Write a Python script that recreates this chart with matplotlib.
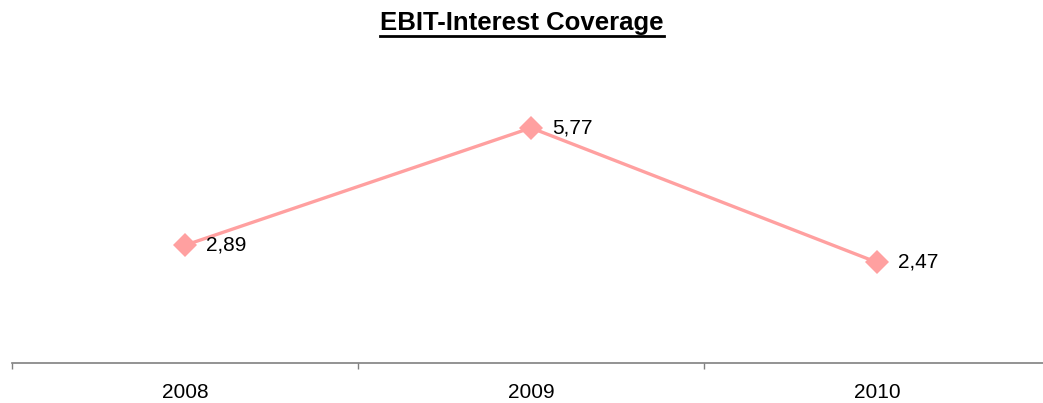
import matplotlib.pyplot as plt

years = ["2008", "2009", "2010"]
coverage = [2.89, 5.77, 2.47]
labels = ["2,89", "5,77", "2,47"]

plt.rcParams["font.family"] = ["Liberation Sans", "DejaVu Sans"]

fig = plt.figure(figsize=(10.43, 4.03), dpi=100)
ax = fig.add_axes([12 / 1043, 40 / 403, 1038 / 1043, 326 / 403])

x = range(len(years))
ax.plot(x, coverage, color="#ffa0a0", linewidth=2.4, marker="D",
        markersize=12, markeredgewidth=0, clip_on=False)

for xi, yi, lab in zip(x, coverage, labels):
    ax.annotate(lab, xy=(xi, yi), xytext=(15, 0), textcoords="offset points",
                ha="left", va="center", fontsize=15)

ax.set_xlim(-0.5, 2.5)
ax.set_ylim(0, 8)
ax.set_yticks([])
ax.set_xticks([-0.5, 0.5, 1.5, 2.5])
ax.set_xticklabels([])
ax.set_xticks(list(x), minor=True)
ax.set_xticklabels(years, minor=True)
ax.tick_params(axis="x", which="major", direction="out", length=4.5,
               width=1, color="#808080")
ax.tick_params(axis="x", which="minor", length=0, pad=14.5, labelsize=15)

for side in ["top", "right", "left"]:
    ax.spines[side].set_visible(False)
ax.spines["bottom"].set_color("#808080")
ax.spines["bottom"].set_linewidth(1.2)

t = fig.text(522 / 1043, 1 - 23 / 403, "EBIT-Interest Coverage", ha="center",
             va="center", fontsize=18.5, fontweight="bold")
fig.canvas.draw()
bb = t.get_window_extent()
fig.add_artist(plt.Line2D([bb.x0 / 1043, bb.x1 / 1043],
                          [(bb.y0 - 1) / 403, (bb.y0 - 1) / 403],
                          color="black", linewidth=2))

fig.savefig("out.png", dpi=100)
plt.close()
